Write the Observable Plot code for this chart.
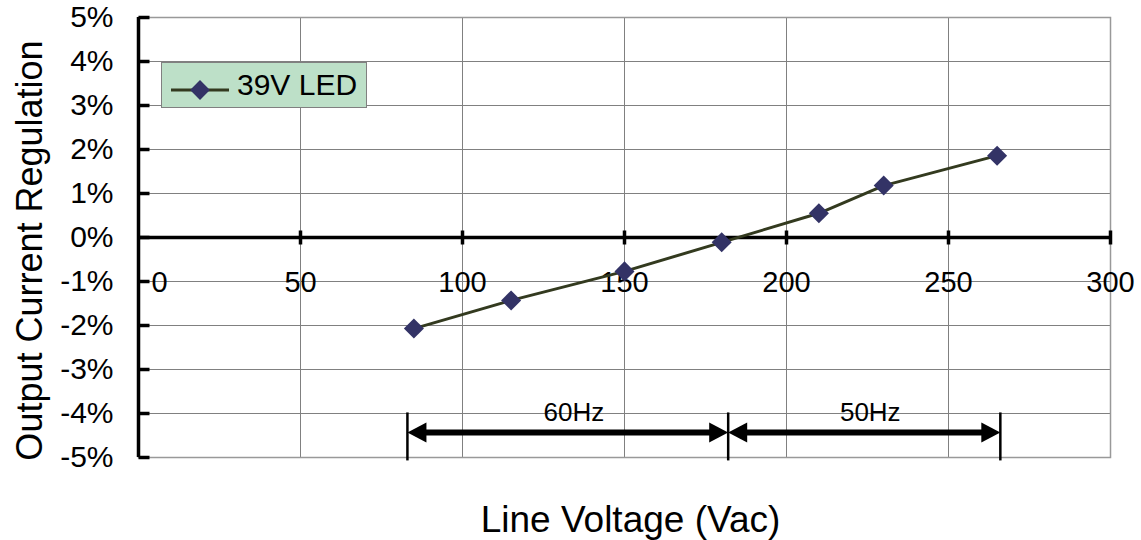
<!DOCTYPE html>
<html>
<head>
<meta charset="utf-8">
<script src="https://cdn.jsdelivr.net/npm/d3@7"></script>
<script src="https://cdn.jsdelivr.net/npm/@observablehq/plot@0.6"></script>
<style>
  html, body { margin: 0; padding: 0; background: #fff; }
  #wrap { position: relative; width: 1141px; height: 540px; font-family: "Liberation Sans", Arial, sans-serif; }
  #legend { position: absolute; left: 161px; top: 62px; width: 204px; height: 44px; box-sizing: content-box;
    background: #bde0c8; border: 1px solid #808080; display: flex; align-items: center; white-space: nowrap; overflow: visible; }
  #legend span { font-size: 30px; color: #000; margin-left: 0px; line-height: 1; white-space: nowrap; }
</style>
</head>
<body>
<div id="wrap"></div>
<script>
// ---- data ----
const lineVoltage = [85, 115, 150, 180, 210, 230, 265];
const regulation = [-0.0207, -0.0143, -0.0077, -0.0011, 0.0055, 0.0118, 0.0186];
const seriesName = "39V LED";
const xTicks = [0, 50, 100, 150, 200, 250, 300];
const yTicks = [-0.05, -0.04, -0.03, -0.02, -0.01, 0, 0.01, 0.02, 0.03, 0.04, 0.05];
const bandStart = [83, 182];
const bandEnd = [182, 266];
const bandLabel = ["60Hz", "50Hz"];
const bandLevel = -0.0443;
const bandEdges = [83, 182, 266];
const xTitle = "Line Voltage (Vac)";
const yTitle = "Output Current Regulation";

const points = lineVoltage.map((v, i) => ({v, r: regulation[i]}));
const bands = bandStart.map((s, i) => ({s, e: bandEnd[i], label: bandLabel[i]}));

// custom symbols
const yTickSym = {draw(c) { c.moveTo(0, 0); c.lineTo(11, 0); }};
const xTickSym = {draw(c) { c.moveTo(0, -7); c.lineTo(0, 7); }};
const edgeSym = {draw(c) { c.moveTo(0, -20); c.lineTo(0, 28); }};
const headLeft = {draw(c) { c.moveTo(0, 0); c.lineTo(19, -10); c.lineTo(19, 10); c.closePath(); }};
const headRight = {draw(c) { c.moveTo(0, 0); c.lineTo(-19, -10); c.lineTo(-19, 10); c.closePath(); }};

const fmtPct = d => Math.round(d * 100) + "%";
const font = "Liberation Sans, Arial, sans-serif";

const chart = Plot.plot({
  width: 1141,
  height: 540,
  marginLeft: 138,
  marginRight: 31,
  marginTop: 17,
  marginBottom: 83,
  style: {fontFamily: font, background: "#fff", color: "#000"},
  x: {domain: [0, 300], axis: null},
  y: {domain: [-0.05, 0.05], axis: null},
  marks: [
    Plot.gridX(xTicks, {stroke: "#808080", strokeOpacity: 1, strokeWidth: 1}),
    Plot.gridY(yTicks, {stroke: "#808080", strokeOpacity: 1, strokeWidth: 1}),
    Plot.frame({stroke: "#999", strokeWidth: 1.5}),
    // left axis
    Plot.ruleX([0], {stroke: "#000", strokeWidth: 3.5}),
    Plot.dot(yTicks, {x: 0, y: d => d, symbol: yTickSym, fill: "none", stroke: "#000", strokeWidth: 3.5}),
    Plot.text(yTicks, {x: 0, y: d => d, text: d => fmtPct(d), textAnchor: "end", dx: -25, fontSize: 30, fill: "#000"}),
    // zero axis
    Plot.ruleY([0], {stroke: "#000", strokeWidth: 3.5}),
    Plot.dot(xTicks.filter(d => d > 0), {x: d => d, y: 0, symbol: xTickSym, fill: "none", stroke: "#000", strokeWidth: 3.5}),
    Plot.text(xTicks.filter(d => d > 0), {x: d => d, y: 0, text: d => String(d), dy: 45, fontSize: 29, fill: "#000"}),
    Plot.text(xTicks.filter(d => d === 0), {x: d => d, y: 0, text: d => String(d), dy: 45, dx: 21, fontSize: 29, fill: "#000"}),
    // data
    Plot.line(points, {x: "v", y: "r", stroke: "#333a1f", strokeWidth: 3}),
    Plot.dot(points, {x: "v", y: "r", symbol: "square", r: 8, rotate: 45, fill: "#333366", stroke: "none"}),
    // frequency bands
    Plot.dot(bandEdges, {x: d => d, y: bandLevel, symbol: edgeSym, fill: "none", stroke: "#000", strokeWidth: 2.5}),
    Plot.ruleY(bands, {x1: "s", x2: "e", y: bandLevel, stroke: "#000", strokeWidth: 6, inset: 10}),
    Plot.dot(bands, {x: "s", y: bandLevel, symbol: headLeft, fill: "#000", stroke: "none"}),
    Plot.dot(bands, {x: "e", y: bandLevel, symbol: headRight, fill: "#000", stroke: "none"}),
    Plot.text(bands, {x: d => (d.s + d.e) / 2, y: bandLevel, text: "label", dy: -20, dx: 6, fontSize: 26, fill: "#000"}),
    // titles
    Plot.text([xTitle], {frameAnchor: "bottom", textAnchor: "middle", lineAnchor: "middle", dx: 6, dy: 63, fontSize: 37, fill: "#000"}),
    Plot.text([yTitle], {frameAnchor: "left", textAnchor: "middle", rotate: -90, dx: -108, dy: 13, fontSize: 36, fill: "#000"})
  ]
});

const wrap = document.getElementById("wrap");
wrap.appendChild(chart);

// legend
const legend = document.createElement("div");
legend.id = "legend";
legend.innerHTML = `<svg width="66" height="44" style="margin-left:9px;flex:none">
  <line x1="0" y1="27" x2="58" y2="27" stroke="#333a1f" stroke-width="3"/>
  <rect x="22" y="20" width="14" height="14" fill="#333366" transform="rotate(45 29 27)"/>
</svg><span>${seriesName}</span>`;
wrap.appendChild(legend);
</script>
</body>
</html>
